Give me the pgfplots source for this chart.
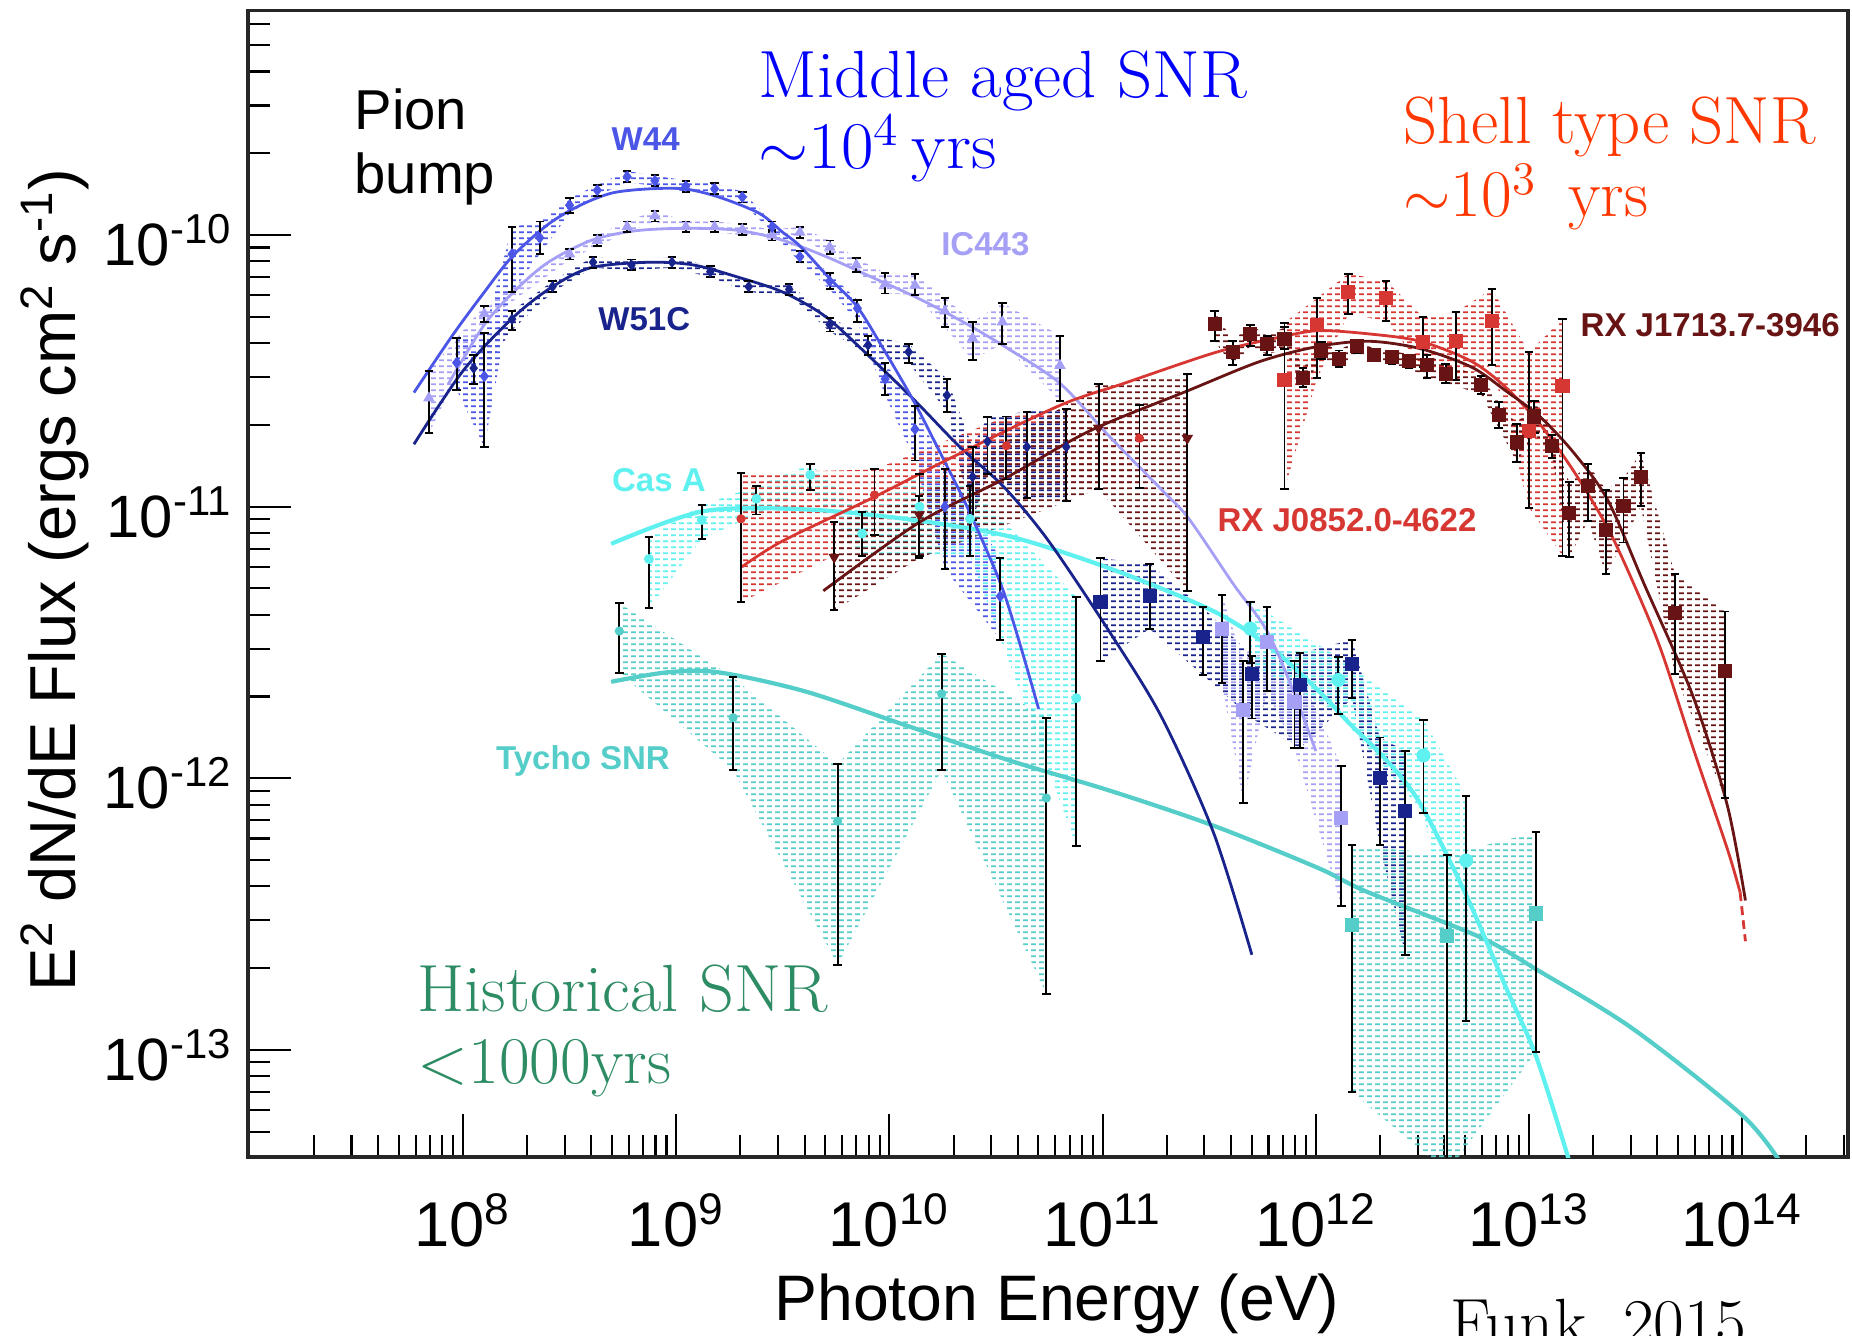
\documentclass[border=0pt]{standalone}
\usepackage{fontspec}
\usepackage{graphicx}
\usepackage{pgfplots}
\pgfplotsset{compat=1.18}
\usepackage{pgfplotstable}
\usetikzlibrary{patterns}
\newfontfamily\hv{Liberation Sans}

\definecolor{cWff}{RGB}{75,85,230}
\definecolor{cIC}{RGB}{165,160,245}
\definecolor{cWfo}{RGB}{25,35,140}
\definecolor{cCas}{RGB}{95,240,240}
\definecolor{cTy}{RGB}{85,205,200}
\definecolor{cVela}{RGB}{215,55,50}
\definecolor{cJse}{RGB}{105,20,20}
\definecolor{txtblue}{RGB}{0,0,250}
\definecolor{txtred}{RGB}{255,55,0}
\definecolor{txtgreen}{RGB}{45,140,100}

% rows of short dashes used to shade the uncertainty bands
\pgfdeclarepatternformonly{dashrows}{\pgfqpoint{0mm}{0mm}}{\pgfqpoint{0.8mm}{0.63mm}}{\pgfqpoint{0.8mm}{0.63mm}}{%
  \pgfsetlinewidth{0.2mm}%
  \pgfpathmoveto{\pgfqpoint{0mm}{0.315mm}}%
  \pgfpathlineto{\pgfqpoint{0.5mm}{0.315mm}}%
  \pgfusepath{stroke}%
}

% ---------------- flux points: E, E^2 dN/dE, lower and upper end of the error bar
\pgfplotstableread{
E F lo hi
9.333e7 3.388e-11 2.692e-11 4.169e-11
1.259e8 3.020e-11 1.660e-11 4.365e-11
1.698e8 8.511e-11 6.166e-11 1.072e-10
2.291e8 9.772e-11 8.511e-11 1.122e-10
3.162e8 1.288e-10 1.202e-10 1.365e-10
4.266e8 1.462e-10 1.396e-10 1.531e-10
5.888e8 1.641e-10 1.567e-10 1.718e-10
7.943e8 1.585e-10 1.514e-10 1.660e-10
1.109e9 1.514e-10 1.445e-10 1.585e-10
1.514e9 1.479e-10 1.413e-10 1.549e-10
2.042e9 1.380e-10 1.318e-10 1.445e-10
2.818e9 1.072e-10 1.023e-10 1.122e-10
3.802e9 8.318e-11 7.943e-11 8.710e-11
5.248e9 6.761e-11 6.310e-11 7.244e-11
7.079e9 5.370e-11 4.786e-11 5.754e-11
9.550e9 2.951e-11 2.570e-11 3.388e-11
1.318e10 1.928e-11 1.479e-11 2.344e-11
1.820e10 1.000e-11 5.888e-12 1.380e-11
3.311e10 4.677e-12 3.236e-12 6.457e-12
}\tWff

\pgfplotstableread{
E F lo hi
1.122e8 3.236e-11 2.818e-11 3.631e-11
1.698e8 4.898e-11 4.467e-11 5.248e-11
2.630e8 6.457e-11 6.166e-11 6.761e-11
4.074e8 7.943e-11 7.586e-11 8.318e-11
6.166e8 7.762e-11 7.413e-11 8.128e-11
9.550e8 7.943e-11 7.586e-11 8.318e-11
1.445e9 7.328e-11 6.998e-11 7.674e-11
2.188e9 6.457e-11 6.166e-11 6.761e-11
3.388e9 6.310e-11 6.026e-11 6.607e-11
5.248e9 4.677e-11 4.416e-11 4.955e-11
7.943e9 3.936e-11 3.631e-11 4.266e-11
1.230e10 3.715e-11 3.388e-11 3.981e-11
1.862e10 2.570e-11 2.239e-11 2.951e-11
2.455e10 1.288e-11 8.913e-12 1.660e-11
2.884e10 1.738e-11 1.318e-11 2.138e-11
4.416e10 1.660e-11 1.072e-11 2.239e-11
6.761e10 1.660e-11 1.047e-11 2.291e-11
}\tWfoG

\pgfplotstableread{
E F lo hi
9.772e10 4.467e-12 2.692e-12 6.457e-12
1.660e11 4.677e-12 3.548e-12 6.166e-12
2.951e11 3.311e-12 2.399e-12 4.266e-12
5.012e11 2.427e-12 1.660e-12 2.818e-12
8.414e11 2.213e-12 1.288e-12 2.884e-12
1.479e12 2.630e-12 1.972e-12 3.236e-12
1.995e12 1.000e-12 5.689e-13 1.413e-12
2.630e12 7.586e-13 2.239e-13 1.259e-12
}\tWfoT

\pgfplotstableread{
E F lo hi
6.918e7 2.512e-11 1.862e-11 3.162e-11
1.259e8 5.129e-11 4.786e-11 5.495e-11
3.162e8 8.511e-11 8.128e-11 8.913e-11
4.266e8 9.550e-11 9.120e-11 1.000e-10
5.888e8 1.072e-10 1.023e-10 1.122e-10
7.943e8 1.175e-10 1.122e-10 1.230e-10
1.109e9 1.072e-10 1.023e-10 1.122e-10
1.514e9 1.072e-10 1.023e-10 1.122e-10
2.042e9 1.047e-10 1.000e-10 1.096e-10
2.818e9 1.000e-10 9.550e-11 1.047e-10
3.802e9 1.023e-10 9.772e-11 1.072e-10
5.248e9 9.016e-11 8.511e-11 9.550e-11
7.000e9 7.762e-11 7.328e-11 8.222e-11
9.550e9 6.607e-11 6.095e-11 7.244e-11
1.318e10 6.531e-11 6.026e-11 7.161e-11
1.820e10 5.248e-11 4.571e-11 5.888e-11
2.455e10 4.169e-11 3.467e-11 4.786e-11
3.388e10 4.786e-11 3.981e-11 5.623e-11
6.310e10 3.311e-11 2.455e-11 4.266e-11
}\tICG

\pgfplotstableread{
E F lo hi
3.631e11 3.548e-12 2.239e-12 4.732e-12
4.571e11 1.778e-12 8.128e-13 2.692e-12
5.888e11 3.162e-12 2.089e-12 4.266e-12
7.943e11 1.905e-12 1.288e-12 2.692e-12
1.318e12 7.161e-13 3.388e-13 1.109e-12
}\tICT

\pgfplotstableread{
E F lo hi
7.447e8 6.412e-12 4.227e-12 7.727e-12
1.318e9 8.933e-12 7.603e-12 1.014e-11
2.377e9 1.069e-11 9.354e-12 1.191e-11
4.256e9 1.309e-11 1.156e-11 1.435e-11
7.447e9 7.962e-12 6.607e-12 9.594e-12
1.384e10 1.000e-11 6.607e-12 1.318e-11
2.388e10 9.016e-12 6.607e-12 1.191e-11
7.534e10 1.972e-12 5.636e-13 4.656e-12
}\tCasG

\pgfplotstableread{
E F lo hi
4.932e11 3.556e-12 2.661e-12 4.446e-12
1.276e12 2.301e-12 1.726e-12 2.786e-12
3.199e12 1.213e-12 7.464e-13 1.644e-12
5.070e12 4.977e-13 1.274e-13 8.630e-13
}\tCasT

\pgfplotstableread{
E F lo hi
5.408e8 3.483e-12 2.449e-12 4.416e-12
1.849e9 1.671e-12 1.072e-12 2.350e-12
5.715e9 6.950e-13 2.056e-13 1.127e-12
1.758e10 2.046e-12 1.072e-12 2.877e-12
5.445e10 8.453e-13 1.607e-13 1.671e-12
}\tTyG

\pgfplotstableread{
E F lo hi
1.479e12 2.877e-13 6.982e-14 5.689e-13
4.140e12 2.624e-13 3.548e-14 5.224e-13
1.079e13 3.177e-13 9.840e-14 6.324e-13
}\tTyT

\pgfplotstableread{
E F lo hi
2.014e9 9.016e-12 4.446e-12 1.330e-11
8.511e9 1.104e-11 7.834e-12 1.371e-11
3.540e10 1.675e-11 1.259e-11 2.148e-11
1.489e11 1.786e-11 1.175e-11 2.360e-11
}\tVelaG

\pgfplotstableread{
E F lo hi
7.129e11 2.924e-11 1.159e-11 4.753e-11
1.014e12 4.677e-11 2.965e-11 5.861e-11
1.422e12 6.166e-11 5.129e-11 7.211e-11
2.138e12 5.875e-11 4.819e-11 6.776e-11
3.177e12 4.027e-11 3.266e-11 5.000e-11
4.539e12 4.064e-11 2.931e-11 5.200e-11
6.699e12 4.831e-11 3.319e-11 6.324e-11
1.000e13 1.905e-11 9.908e-12 3.698e-11
1.435e13 2.780e-11 6.607e-12 4.920e-11
}\tVelaT

\pgfplotstableread{
E F lo hi
5.508e9 6.516e-12 4.150e-12 8.750e-12
1.380e10 9.333e-12 6.457e-12 1.096e-11
9.572e10 1.950e-11 1.161e-11 2.818e-11
2.495e11 1.786e-11 4.898e-12 3.069e-11
}\tJseG

\pgfplotstableread{
E F lo hi
3.350e11 4.699e-11 4.064e-11 5.260e-11
4.074e11 3.698e-11 3.311e-11 4.074e-11
4.932e11 4.325e-11 3.890e-11 4.677e-11
5.929e11 3.972e-11 3.631e-11 4.266e-11
7.129e11 4.150e-11 3.802e-11 4.571e-11
8.730e11 2.979e-11 2.754e-11 3.236e-11
1.062e12 3.758e-11 3.508e-11 4.027e-11
1.285e12 3.508e-11 3.273e-11 3.758e-11
1.563e12 3.899e-11 3.673e-11 4.121e-11
1.879e12 3.622e-11 3.428e-11 3.802e-11
2.275e12 3.556e-11 3.350e-11 3.758e-11
2.742e12 3.428e-11 3.236e-11 3.631e-11
3.319e12 3.319e-11 2.972e-11 3.631e-11
4.064e12 3.090e-11 2.851e-11 3.350e-11
5.943e12 2.799e-11 2.600e-11 3.020e-11
7.194e12 2.183e-11 1.950e-11 2.438e-11
8.750e12 1.730e-11 1.459e-11 2.018e-11
1.059e13 2.148e-11 1.862e-11 2.455e-11
1.285e13 1.679e-11 1.514e-11 1.841e-11
1.545e13 9.441e-12 6.516e-12 1.230e-11
1.892e13 1.191e-11 8.872e-12 1.435e-11
2.291e13 8.222e-12 5.662e-12 1.156e-11
2.773e13 1.005e-11 7.379e-12 1.271e-11
3.342e13 1.288e-11 1.005e-11 1.578e-11
4.831e13 4.046e-12 2.427e-12 5.662e-12
8.299e13 2.489e-12 8.453e-13 4.111e-12
}\tJseT

% outline of a band: upper error ends left to right, then lower ends right to left
\newcommand{\mkband}[2]{%
  \pgfplotstablesort[sort key=E]{#2}{#1}%
  \pgfplotstablesort[sort key=E, sort cmp=float >]{\tmpdown}{#1}%
  \pgfplotstablecreatecol[create col/copy=hi]{B}{#2}%
  \pgfplotstablecreatecol[create col/copy=lo]{B}{\tmpdown}%
  \pgfplotstablevertcat{#2}{\tmpdown}%
}
\mkband{\tWff}{\bWff}
\mkband{\tWfoG}{\bWfoG}
\mkband{\tWfoT}{\bWfoT}
\mkband{\tICG}{\bICG}
\mkband{\tICT}{\bICT}
\mkband{\tCasG}{\bCasG}
\mkband{\tCasT}{\bCasT}
\mkband{\tTyG}{\bTyG}
\mkband{\tTyT}{\bTyT}
\mkband{\tVelaG}{\bVelaG}
\mkband{\tVelaT}{\bVelaT}
\mkband{\tJseG}{\bJseG}
\mkband{\tJseT}{\bJseT}

\newcommand{\band}[2]{%
  \addplot[draw=none, pattern=dashrows, pattern color=#2] table[x=E,y=B]{#1};
}
% markers with black, capped error bars
\newcommand{\pts}[3]{%
  \addplot[only marks, color=#2, #3,
    error bars/y dir=both, error bars/y explicit,
    error bars/error mark=-,
    error bars/error bar style={black, line width=0.55pt},
    error bars/error mark options={black, mark size=1.2pt, line width=0.55pt, rotate=90}]
    table[x=E, y=F, y error plus expr=\thisrow{hi}-\thisrow{F},
          y error minus expr=\thisrow{F}-\thisrow{lo}]{#1};
}

\begin{document}
\begin{tikzpicture}
\begin{axis}[
  at={(0,0)}, anchor=south west, scale only axis,
  width=16cm, height=11.47cm,
  xmode=log, ymode=log,
  xmin=9.81e6, xmax=3.134e14,
  ymin=4.029e-14, ymax=6.736e-10,
  axis line style={line width=0.9pt, black!85},
  tick align=inside, tick pos=left,
  major tick length=0.43cm, minor tick length=0.22cm,
  tick style={black, line width=0.6pt},
  xtick={1e8,1e9,1e10,1e11,1e12,1e13,1e14},
  xticklabels={10\textsuperscript{8},10\textsuperscript{9},10\textsuperscript{10},10\textsuperscript{11},10\textsuperscript{12},10\textsuperscript{13},10\textsuperscript{14}},
  minor xtick={2e7,3e7,4e7,5e7,6e7,7e7,8e7,9e7,
    2e8,3e8,4e8,5e8,6e8,7e8,8e8,9e8,
    2e9,3e9,4e9,5e9,6e9,7e9,8e9,9e9,
    2e10,3e10,4e10,5e10,6e10,7e10,8e10,9e10,
    2e11,3e11,4e11,5e11,6e11,7e11,8e11,9e11,
    2e12,3e12,4e12,5e12,6e12,7e12,8e12,9e12,
    2e13,3e13,4e13,5e13,6e13,7e13,8e13,9e13,
    2e14,3e14},
  ytick={1e-13,1e-12,1e-11,1e-10},
  yticklabels={10\textsuperscript{-13},10\textsuperscript{-12},10\textsuperscript{-11},10\textsuperscript{-10}},
  minor ytick={5e-14,6e-14,7e-14,8e-14,9e-14,
    2e-13,3e-13,4e-13,5e-13,6e-13,7e-13,8e-13,9e-13,
    2e-12,3e-12,4e-12,5e-12,6e-12,7e-12,8e-12,9e-12,
    2e-11,3e-11,4e-11,5e-11,6e-11,7e-11,8e-11,9e-11,
    2e-10,3e-10,4e-10,5e-10,6e-10},
  xticklabel style={font=\hv\fontsize{18}{20}\selectfont, anchor=base, inner sep=0pt, yshift=-0.89cm},
  yticklabel style={font=\hv\fontsize{17}{19}\selectfont, anchor=base east, inner sep=0pt, xshift=-0.15cm, yshift=-0.306cm},
]

% ---- uncertainty bands
\band{\bWfoG}{cWfo}
\band{\bWfoT}{cWfo}
\band{\bICG}{cIC}
\band{\bICT}{cIC}
\band{\bWff}{cWff}
\band{\bCasG}{cCas}
\band{\bCasT}{cCas}
\band{\bTyG}{cTy}
\band{\bTyT}{cTy}
\band{\bVelaG}{cVela}
\band{\bVelaT}{cVela}
\band{\bJseG}{cJse}
\band{\bJseT}{cJse}

% ---- model curves
\addplot[cTy, line width=1.2pt, smooth] coordinates {
(4.955e8,2.265e-12) (9.078e8,2.455e-12) (1.578e9,2.455e-12) (4.018e9,2.089e-12)
(1.211e10,1.560e-12) (3.639e10,1.164e-12) (1.094e11,8.974e-13) (3.296e11,6.699e-13)
(1.023e12,4.677e-13) (1.702e12,3.846e-13) (5.888e12,2.600e-13) (1.089e13,1.972e-13)
(3.076e13,1.194e-13) (1.019e14,5.662e-14) (1.585e14,3.631e-14)};
\addplot[cCas, line width=1.2pt, smooth] coordinates {
(4.955e8,7.295e-12) (1.337e9,9.616e-12) (4.018e9,9.772e-12) (1.211e10,8.995e-12)
(3.639e10,7.780e-12) (1.094e11,5.902e-12) (3.296e11,4.130e-12) (6.166e11,3.020e-12)
(1.023e12,2.109e-12) (1.445e12,1.585e-12) (2.138e12,1.169e-12) (3.090e12,8.054e-13)
(5.070e12,3.715e-13) (7.762e12,1.710e-13) (1.079e13,9.462e-14) (1.528e13,4.000e-14)
(1.660e13,3.162e-14)};
\addplot[cIC, line width=0.8pt, smooth] coordinates {
(8.511e7,2.818e-11) (1.259e8,4.677e-11) (1.778e8,6.310e-11) (2.512e8,7.943e-11)
(3.981e8,9.550e-11) (6.310e8,1.035e-10) (1.084e9,1.059e-10) (1.928e9,1.042e-10)
(3.126e9,9.594e-11) (5.070e9,8.318e-11) (8.204e9,7.015e-11) (1.318e10,5.929e-11)
(2.138e10,4.864e-11) (3.467e10,3.890e-11) (6.310e10,2.844e-11) (1.072e11,1.820e-11)
(1.905e11,1.148e-11) (2.541e11,9.016e-12) (4.102e11,5.188e-12) (5.929e11,3.467e-12)
(7.943e11,2.042e-12) (1.000e12,1.259e-12)};
\addplot[cWfo, line width=0.8pt, smooth] coordinates {
(5.888e7,1.698e-11) (1.000e8,3.162e-11) (1.738e8,5.012e-11) (2.630e8,6.457e-11)
(3.981e8,7.586e-11) (7.413e8,7.943e-11) (1.202e9,7.762e-11) (1.950e9,6.998e-11)
(3.162e9,6.166e-11) (5.012e9,5.012e-11) (8.128e9,3.548e-11) (1.318e10,2.455e-11)
(2.138e10,1.660e-11) (3.467e10,1.175e-11) (5.623e10,7.413e-12) (1.096e11,3.388e-12)
(1.905e11,1.660e-12) (3.311e11,6.310e-13) (5.012e11,2.239e-13)};
\addplot[cWff, line width=0.8pt, smooth] coordinates {
(5.888e7,2.630e-11) (8.913e7,4.266e-11) (1.259e8,6.166e-11) (1.698e8,8.318e-11)
(2.512e8,1.096e-10) (3.548e8,1.288e-10) (5.012e8,1.429e-10) (7.413e8,1.479e-10)
(1.096e9,1.479e-10) (1.585e9,1.380e-10) (2.455e9,1.202e-10) (3.162e9,1.023e-10)
(3.802e9,9.120e-11) (5.248e9,6.918e-11) (7.079e9,5.433e-11) (9.550e9,3.715e-11)
(1.318e10,2.399e-11) (1.778e10,1.514e-11) (2.344e10,9.772e-12) (3.311e10,5.248e-12)
(4.074e10,3.162e-12) (5.012e10,1.799e-12)};
\addplot[cVela, line width=0.8pt, smooth] coordinates {
(2.028e9,5.998e-12) (3.162e9,7.482e-12) (8.511e9,1.086e-11) (1.995e10,1.528e-11)
(6.310e10,2.360e-11) (1.259e11,2.844e-11) (3.388e11,3.698e-11) (6.607e11,4.188e-11)
(1.023e12,4.446e-11) (1.778e12,4.325e-11) (3.090e12,4.064e-11) (5.370e12,3.428e-11)
(7.762e12,2.754e-11) (1.122e13,2.018e-11) (1.622e13,1.349e-11) (2.344e13,8.318e-12)
(3.162e13,5.012e-12) (4.169e13,2.951e-12) (5.888e13,1.288e-12) (8.511e13,5.495e-13)
(9.772e13,3.802e-13)};
\addplot[cVela, line width=0.8pt, dash pattern=on 2.5pt off 1.5pt] coordinates {
(9.772e13,3.802e-13) (1.035e14,2.512e-13)};
\addplot[cJse, line width=0.8pt, smooth] coordinates {
(4.898e9,4.898e-12) (1.380e10,8.750e-12) (3.467e10,1.268e-11) (8.710e10,1.901e-11)
(2.512e11,2.673e-11) (5.495e11,3.428e-11) (1.023e12,3.890e-11) (1.778e12,4.064e-11)
(3.090e12,3.819e-11) (5.370e12,3.266e-11) (7.762e12,2.673e-11) (1.122e13,2.148e-11)
(1.622e13,1.578e-11) (2.344e13,1.054e-11) (3.467e13,5.188e-12) (5.888e13,1.995e-12)
(8.511e13,7.943e-13) (1.035e14,3.548e-13)};

% ---- measured points
\pts{\tTyG}{cTy}{mark=*, mark size=1.1pt}
\pts{\tTyT}{cTy}{mark=square*, mark size=1.8pt}
\pts{\tCasG}{cCas}{mark=*, mark size=1.2pt}
\pts{\tCasT}{cCas}{mark=*, mark size=1.8pt}
\pts{\tICG}{cIC}{mark=triangle*, mark size=1.5pt}
\pts{\tICT}{cIC}{mark=square*, mark size=1.8pt}
\pts{\tWff}{cWff}{mark=diamond*, mark size=1.4pt}
\pts{\tWfoG}{cWfo}{mark=diamond*, mark size=1.3pt}
\pts{\tWfoT}{cWfo}{mark=square*, mark size=1.8pt}
\pts{\tVelaG}{cVela}{mark=*, mark size=1.1pt}
\pts{\tVelaT}{cVela}{mark=square*, mark size=1.8pt}
\pts{\tJseG}{cJse}{mark=triangle*, mark size=1.5pt, mark options={rotate=180}}
\pts{\tJseT}{cJse}{mark=square*, mark size=1.8pt}
\end{axis}

% ---- axis titles
\node[font=\hv\fontsize{18.3}{20}\selectfont, anchor=base, inner sep=0pt] at (8.09,-1.63) {Photon Energy (eV)};
\node[font=\hv\fontsize{18.5}{20}\selectfont, anchor=base, inner sep=0pt, rotate=90] at (-1.73,5.77)
  {E\textsuperscript{2} dN/dE Flux (ergs cm\textsuperscript{2} s\textsuperscript{-1})};

% ---- source names
\begin{scope}[every node/.style={anchor=base west, inner sep=0pt, font=\hv\bfseries\fontsize{9.4}{11}\selectfont}]
\node[text=cWff] at (3.63,10.07) {W44};
\node[text=cIC] at (6.926,9.02) {IC443};
\node[text=cWfo] at (3.497,8.27) {W51C};
\node[text=cCas] at (3.634,6.66) {Cas A};
\node[text=cTy] at (2.474,3.88) {Tycho SNR};
\node[text=cVela] at (9.688,6.257) {RX J0852.0-4622};
\node[text=cJse] at (13.32,8.21) {RX J1713.7-3946};
\end{scope}

% ---- class annotations
\begin{scope}[every node/.style={anchor=base west, inner sep=0pt}]
\node[font=\hv\fontsize{16}{18}\selectfont] at (1.058,10.28) {Pion};
\node[font=\hv\fontsize{16}{18}\selectfont] at (1.058,9.64) {bump};
\node[font=\fontsize{19}{22}\selectfont, text=txtblue] at (5.10,10.60) {\scalebox{1.03}[1]{Middle aged SNR}};
\node[font=\fontsize{19}{22}\selectfont, text=txtblue] at (5.10,9.89) {\scalebox{1.06}[1]{$\sim$10\textsuperscript{4}\,yrs}};
\node[font=\fontsize{19}{22}\selectfont, text=txtred] at (11.546,10.134) {Shell type SNR};
\node[font=\fontsize{19}{22}\selectfont, text=txtred] at (11.55,9.402) {$\sim$10\textsuperscript{3}\ \,yrs};
\node[font=\fontsize{19}{22}\selectfont, text=txtgreen] at (1.69,1.455) {\scalebox{1.02}[1]{Historical SNR}};
\node[font=\fontsize{19}{22}\selectfont, text=txtgreen] at (1.69,0.734) {<1000yrs};
\node[font=\fontsize{19}{22}\selectfont] at (12.02,-1.88) {Funk, 2015};
\end{scope}
\pgfresetboundingbox
\path[use as bounding box] (-2.48,-1.78) rectangle (16.04,11.57);
\end{tikzpicture}
\end{document}
